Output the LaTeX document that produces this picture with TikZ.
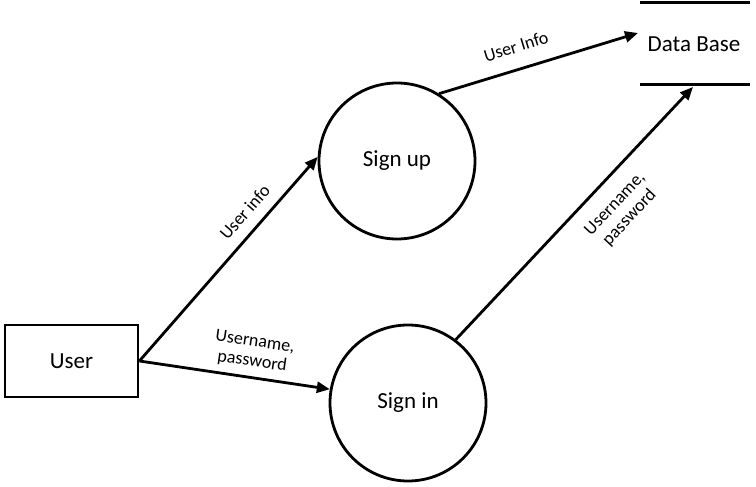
\documentclass[tikz,border=0pt]{standalone}
\usepackage{fontspec}
\setmainfont{Carlito}
\usetikzlibrary{arrows.meta}
\begin{document}
\begin{tikzpicture}[x=1pt,y=-1pt,
  every node/.style={inner sep=0pt},
  big/.style={font=\fontsize{23}{27}\selectfont},
  small/.style={font=\fontsize{18}{20}\selectfont},
  entity/.style={draw,line width=2.8pt,minimum width=133pt,minimum height=72pt,big},
  proc/.style={draw,circle,line width=2.8pt,minimum size=156pt,big},
  flow/.style={line width=2.8pt,-{Triangle[length=13pt,width=11pt]}},
  storeline/.style={line width=3pt},
  lab/.style={small,sloped,align=center,inner sep=3pt}]
\useasboundingbox (0,0) rectangle (756,487);
\node[entity] (user) at (71.5,361) {User};
\node[proc] (signup) at (397,161) {Sign up};
\node[proc] (signin) at (408,403) {Sign in};
\node[big] (db) at (694,44) {Data Base};
\coordinate (dbtl) at (640,3);
\coordinate (dbtr) at (750,3);
\coordinate (dbbl) at (640,85);
\coordinate (dbbr) at (750,85);
\coordinate (dbin1) at (638,33);
\coordinate (dbin2) at (693,87);
\draw[storeline] (dbtl) -- (dbtr);
\draw[storeline] (dbbl) -- (dbbr);
\draw[flow] (user.east) -- node[lab,above,pos=0.67,yshift=8pt] {User info} (signup.177);
\draw[flow] (user.east) -- node[lab,above,pos=0.58,yshift=4pt] {Username,\\password} (signin.170);
\draw[flow] (signup.58) -- node[lab,above,pos=0.42,yshift=12pt] {User Info} (dbin1);
\draw[flow] (signin.53) -- node[lab,below,pos=0.6,yshift=-12pt] {Username,\\password} (dbin2);
\end{tikzpicture}
\end{document}
